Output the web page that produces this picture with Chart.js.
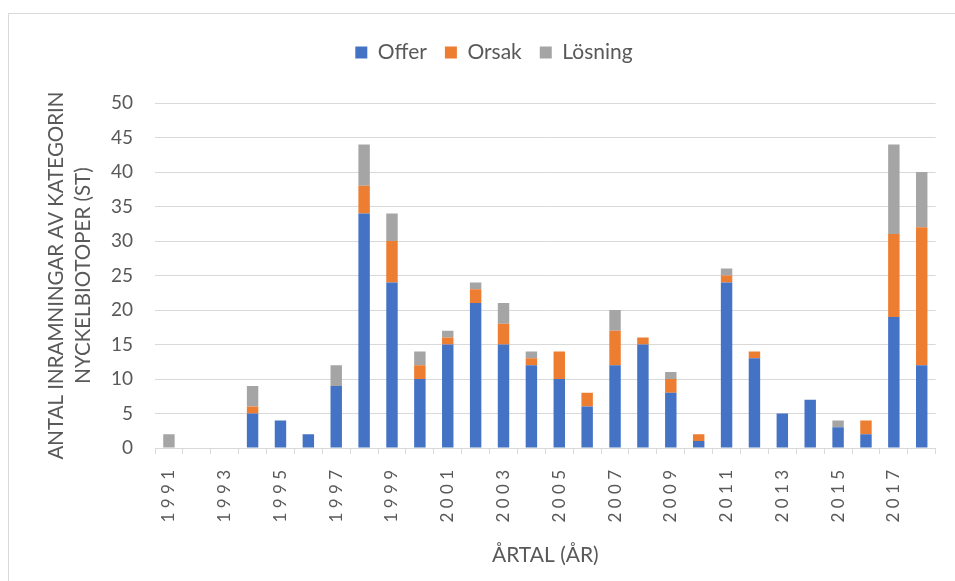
<!DOCTYPE html>
<html>
<head>
<meta charset="utf-8">
<script src="https://cdn.jsdelivr.net/npm/chart.js@4"></script>
<style>
    html, body { margin: 0; padding: 0; background: #fff; }
    #ram { position: absolute; left: 8px; top: 13px; width: 960px; height: 600px; border: 1px solid #d9d9d9; }
    #wrap { position: absolute; left: 0; top: 0; width: 955px; height: 581px; }
</style>
</head>
<body>
<div id="ram"></div>
<div id="wrap"><canvas id="nyckelChart"></canvas></div>
<script>
const years = ['1991', '1992', '1993', '1994', '1995', '1996', '1997', '1998', '1999', '2000',
    '2001', '2002', '2003', '2004', '2005', '2006', '2007', '2008', '2009', '2010',
    '2011', '2012', '2013', '2014', '2015', '2016', '2017', '2018'];
const offer =   [0, 0, 0, 5, 4, 2, 9, 34, 24, 10, 15, 21, 15, 12, 10, 6, 12, 15, 8, 1, 24, 13, 5, 7, 3, 2, 19, 12];
const orsak =   [0, 0, 0, 1, 0, 0, 0, 4, 6, 2, 1, 2, 3, 1, 4, 2, 5, 1, 2, 1, 1, 1, 0, 0, 0, 2, 12, 20];
const losning = [2, 0, 0, 3, 0, 0, 3, 6, 4, 2, 1, 1, 3, 1, 0, 0, 3, 0, 1, 0, 1, 0, 0, 0, 1, 0, 13, 8];

Chart.defaults.font.family = 'Lato';
Chart.defaults.color = '#595959';

// extra luft under legenden och lite förskjutning åt höger
const legendMargin = {
    id: 'legendMargin',
    beforeInit(chart) {
        const fit = chart.legend.fit;
        chart.legend.fit = function() {
            fit.bind(chart.legend)();
            this.height += 30;
        };
    },
    afterLayout(chart) {
        chart.legend.left += 24;
        chart.legend.right += 24;
    }
};

// Excel-liknande glesa siffror, bara vartannat år
function glesEtikett(value, index) {
    if (index % 2 !== 0) return '';
    return years[index].split('').join(' ');
}

const ctx = document.getElementById('nyckelChart').getContext('2d');
new Chart(ctx, {
    type: 'bar',
    data: {
        labels: years,
        datasets: [
            { label: 'Offer', data: offer, backgroundColor: '#4472C4' },
            { label: 'Orsak', data: orsak, backgroundColor: '#ED7D31' },
            { label: 'Lösning', data: losning, backgroundColor: '#A5A5A5' }
        ]
    },
    options: {
        responsive: true,
        maintainAspectRatio: false,
        animation: false,
        layout: { padding: { left: 0, right: 15, top: 24, bottom: 0 } },
        datasets: { bar: { categoryPercentage: 1, barPercentage: 0.41, borderWidth: 0 } },
        scales: {
            x: {
                stacked: true,
                afterFit: function(scale) { scale.height = 133; },
                grid: { display: true, drawOnChartArea: false, drawTicks: true, tickLength: 6, color: '#d9d9d9', offset: true },
                border: { display: true, color: '#d9d9d9', width: 1 },
                ticks: { autoSkip: false, minRotation: 90, maxRotation: 90, padding: 16, font: { size: 17, lineHeight: 1 }, callback: glesEtikett },
                title: { display: true, text: 'ÅRTAL (ÅR)', font: { size: 21 }, padding: { top: 0, bottom: 13 } }
            },
            y: {
                stacked: true,
                min: 0,
                max: 50,
                afterFit: function(scale) { scale.width = 155; },
                grid: { color: '#d9d9d9', lineWidth: 1, drawTicks: false },
                border: { display: false },
                ticks: { stepSize: 5, padding: 22, font: { size: 19 } },
                title: {
                    display: true,
                    text: ['ANTAL INRAMNINGAR AV KATEGORIN', 'NYCKELBIOTOPER (ST)'],
                    font: { size: 20.5, lineHeight: 1.317 },
                    padding: { top: 42.5, bottom: 0 }
                }
            }
        },
        plugins: {
            legend: {
                position: 'top',
                labels: { boxWidth: 12, boxHeight: 12, padding: 18, font: { size: 21 } }
            },
            tooltip: { enabled: false }
        }
    },
    plugins: [legendMargin]
});
</script>
</body>
</html>
